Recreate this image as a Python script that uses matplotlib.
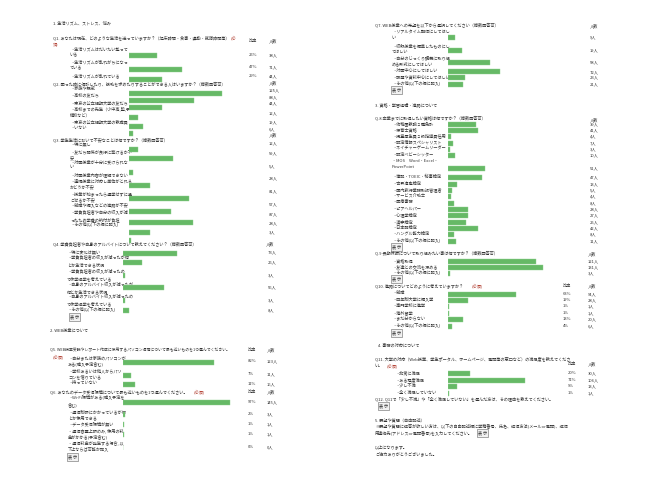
import matplotlib.pyplot as plt
import numpy as np

plt.rcParams['font.family'] = ['Noto Sans CJK JP', 'DejaVu Sans']

# ---- データ ----
q1_labels = ["・生活リズムはだいたい整って\nいる", "・生活リズムが乱れがちになっ\nている", "・生活リズムが乱れている"]
q1_counts = [38, 71, 44]
q1_pct = [25, 47, 29]

q2_labels = ["・家族や親戚", "・高校の友だち", "・東京の公立短期大学の友だち",
             "・高校までの先生（小中高,塾,予\n備校など）", "・東京の公立短期大学の教職員", "・いない"]
q2_counts = [125, 88, 44, 12, 19, 6]

q3_labels = ["・特に無し", "・友だち関係が良好に築けるか不\n安", "・対面授業が十分に受けられな\nい",
             "・対面授業内容が理解できない", "・遠隔授業に対応し単位がとれる\nかどうか不安",
             "・授業が始まったら通学せずに過\nごせるか不安", "・就職や編入などの進路が不安",
             "・学費負担者や自分の収入が減\nったため学費の納付が負担", "・その他(以下の欄に記入)"]
q3_counts = [12, 59, 5, 28, 81, 57, 87, 28, 3]

q4_labels = ["・特に変化は無い", "・学費負担者の収入が減ったが何\nとか生活できる状況",
             "・学費負担者の収入が減ったの\nで休学退学を考えている",
             "・自身のアルバイト収入が減ったが\n何とか生活できる状況",
             "・自身のアルバイト収入が減ったの\nで休学退学を考えている", "・その他(以下の欄に記入)"]
q4_counts = [73, 26, 3, 56, 3, 8]

q5_labels = ["・自分または家族のパソコンが\nある(購入予定含む)", "・学校あるいは他人からパソ\nコンを借りている", "・持っていない"]
q5_counts = [123, 11, 16]
q5_pct = [82, 7, 11]

q6_labels = ["・Wi-Fi環境がある(購入予定を\n含む)", "・通信制限にかかっているが何\nとか使用できる",
             "・データ受信環境が無い", "・通信容量上限のみ, 使用の料\n金がかかる(予定含む)",
             "・通信料金が発生する場合, 以\n下上ならば可能か記入"]
q6_counts = [145, 3, 1, 1, 0]
q6_pct = [97, 2, 1, 1, 0]

q7_labels = ["・リアルタイム配信にしてほし\nい", "・収録授業を編集したものにし\nてほしい",
             "・自分のじっくり講義に取り組\nめる形式にしてほしい", "・対面中心にしてほしい",
             "・課題や資料中心にしてほしい", "・その他(以下の欄に記入)"]
q7_counts = [9, 19, 58, 72, 23, 21]

q8_labels = ["・幼稚園教諭２種免許", "・保育士資格", "・児童厚生員２級指導員任用", "・認定情報スペシャリスト",
             "・ネイチャーゲームリーダー", "・認定ベビーシッター", "・MOS　Word・Excel・\nPowerPoint",
             "・簿記・TOEIC・秘書検定", "・世界遺産検定", "・国内旅行業務取扱管理者", "・サービス介助士",
             "・医療事務", "・ピアヘルパー", "・心理学検定", "・漢字検定", "・日本語検定",
             "・ハングル能力検定", "・その他(以下の欄に記入)"]
q8_counts = [39, 41, 4, 7, 3, 10, 51, 47, 13, 5, 4, 8, 28, 27, 25, 42, 8, 11]

q9_labels = ["・資格取得", "・友達との交流を深める", "・その他(以下の欄に記入)"]
q9_counts = [121, 131, 3]

q10_labels = ["・就職", "・四年制大学に編入学", "・専門学校に進学", "・海外留学", "・まだ分からない",
              "・その他(以下の欄に記入)"]
q10_counts = [94, 28, 1, 1, 20, 6]
q10_pct = [63, 19, 1, 1, 13, 4]

q11_labels = ["・非常に満足", "・ある程度満足", "・少し不満", "・全く満足していない"]
q11_counts = [30, 106, 13, 1]
q11_pct = [20, 71, 9, 1]

# ---- 描画 ----
W, H = 649, 487
GREEN = '#66b966'
TXT = '#333333'
RED = '#b5473a'
FS = 3.0

fig = plt.figure(figsize=(W / 100, H / 100), dpi=100)
ax = fig.add_axes([0, 0, 1, 1])
ax.set_xlim(0, W)
ax.set_ylim(H, 0)
ax.axis('off')


def bar_axes(x0, px_per):
    # 人数を横棒の長さに変換する軸(ページ全体の高さ)
    b = fig.add_axes([x0 / W, 0, 200 * px_per / W, 1])
    b.set_xlim(0, 200)
    b.set_ylim(H, 0)
    b.axis('off')
    return b


def t(x, y, s, color=TXT, fs=FS, **kw):
    return ax.text(x, y, s, fontsize=fs, color=color, va='center', ha='left', **kw)


def required(txt, gap=4):
    # 質問文のすぐ右に赤い(必須)
    ax.annotate("(必須)", xy=(1, 0.5), xycoords=txt, xytext=(gap, 0), textcoords='offset pixels',
                fontsize=FS, color=RED, va='center', ha='left')


def button(x, y):
    ax.text(x, y, "表 示", fontsize=FS, color=TXT, va='center', ha='left',
            bbox=dict(boxstyle='square,pad=0.3', fc='#f2f2f2', ec='#666666', lw=0.4))


def question(bax, labels, counts, lab_x, lab_y, bar_y, num_y, num_x, pcts=None, pct_x=None):
    for lab, y in zip(labels, lab_y):
        ax.text(lab_x, y - 2.6, lab, fontsize=FS, color=TXT, va='top', ha='left', linespacing=1.45)
    bax.barh(bar_y, counts, height=5, color=GREEN, edgecolor='#8fd08f', linewidth=0.3)
    for c, y in zip(counts, num_y):
        t(num_x, y, f"{c}人")
    if pcts is not None:
        for p, y in zip(pcts, num_y):
            t(pct_x, y, f"{p}%")


bl1 = bar_axes(129, 0.74)
bl2 = bar_axes(123, 0.74)
br = bar_axes(448, 0.725)

# 左列
t(53, 23, "1. 生活リズム、ストレス、悩み")
t(53, 38, "Q1. あなたは現在、どのような生活を送っていますか？（起床時間・食事・運動・就寝時間等）")
t(231, 38, "(必", color=RED)
t(53, 44, "須)", color=RED)
t(249, 41, "比率")
t(269, 41, "人数")
question(bl1, q1_labels, q1_counts, 70, [50, 63, 76], [55, 69, 79], [55, 67, 76], 269, q1_pct, 249)

t(53, 84, "Q2. 困った時に相談したり、援助を求めたりすることができる人はいますか？（複数回答可）")
t(269, 83, "人数")
question(bl1, q2_labels, q2_counts, 70, [89, 95, 103, 109, 122, 129],
         [93, 100, 107, 117, 126, 133], [90, 97, 103, 113, 122, 129], 269)

t(269, 135, "人数")
t(53, 140, "Q3. 学生生活において不安なことは何ですか？（複数回答可）")
question(bl1, q3_labels, q3_counts, 70, [144, 152, 162, 175, 181, 194, 206, 213, 225],
         [149, 158, 172, 185, 198, 211, 222, 232, 240], [143, 153, 166, 178, 191, 204, 214, 223, 232], 269)

t(53, 244, "Q4. 学費負担者や自身のアルバイトについて教えてください？（複数回答可）")
t(266, 244, "人数")
question(bl2, q4_labels, q4_counts, 67, [252, 258, 272, 285, 297, 310],
         [253, 262, 275, 287, 300, 310], [252, 262, 275, 287, 300, 310], 268)
button(70, 317)

t(50, 331, "2. WEB授業について")
t(50, 350, "Q5. WEB授業受講やレポート作成に使用するパソコン環境について最も近いものを1つ選んでください。", fs=2.75)
t(53, 357, "(必須)", color=RED)
t(248, 350, "比率")
t(267, 350, "人数")
question(bl2, q5_labels, q5_counts, 68, [358, 371, 384], [362, 375, 384], [361, 374, 384], 267, q5_pct, 248)

q6_txt = t(50, 392, "Q6. あなたのデータ受信環境について最も近いものを1つ選んでください。")
required(q6_txt, 6)
t(248, 392, "比率")
t(267, 392, "人数")
question(bl2, q6_labels, q6_counts, 68, [398, 412, 424, 431, 443], [402, 414, 424, 434, 447],
         [402, 414, 424, 434, 447], 267, q6_pct, 248)
button(68, 457)

# 右列
t(375, 25, "Q7. WEB授業への希望を以下から選択してください（複数回答可）")
t(590, 26, "人数")
question(br, q7_labels, q7_counts, 392, [33, 46, 58, 71, 77, 84], [37, 50, 62, 71, 77, 84],
         [37, 50, 62, 72, 77, 84], 590)
button(392, 90)

t(375, 105, "3. 資格・学習経験・進路について")
t(375, 118, "Q.8 卒業までに取得したい資格は何ですか？（複数回答可）")
t(590, 120, "人数")
q8_rows = [124, 130, 136, 143, 149, 155, 162, 177, 184, 190, 196, 203, 209, 215, 222, 228, 234, 241]
q8_bars = [124, 130, 136, 143, 149, 155, 168, 177, 184, 190, 196, 203, 209, 215, 222, 228, 234, 241]
question(br, q8_labels, q8_counts, 392, q8_rows, q8_bars, q8_bars, 590)
button(392, 247)

t(375, 253, "Q.9 長期休暇について取り組みたい事は何ですか？（複数回答可）")
t(588, 254, "人数")
question(br, q9_labels, q9_counts, 392, [261, 267, 273], [261, 267, 273], [261, 267, 273], 588)
button(392, 279)

q10_txt = t(375, 286, "Q10. 進路についてどのように考えていますか？")
required(q10_txt, 8)
t(563, 286, "比率")
t(588, 286, "人数")
question(br, q10_labels, q10_counts, 392, [294, 300, 306, 313, 319, 326], [294, 300, 306, 313, 319, 326],
         [294, 300, 306, 313, 319, 326], 588, q10_pct, 563)
button(392, 333)

t(378, 346, "4. 事務の対応について")
t(375, 359, "Q11. 大学の対応（Web授業、学生ポータル、ホームページ、電話等の窓口など）の満足度を教えてくださ")
q11_tail = t(375, 366, "い。")
required(q11_tail, 3)
t(568, 364, "比率")
t(588, 364, "人数")
question(br, q11_labels, q11_counts, 395, [373, 380, 386, 393], [373, 380, 386, 393],
         [373, 380, 386, 393], 588, q11_pct, 568)
t(375, 399, "Q12. Q11で「少し不満」や「全く満足していない」を選んだ方は、その理由を教えてください。")
button(379, 406)

t(375, 420, "5. 要望や質問（自由記述）")
t(375, 426, "※要望や質問に返答が欲しい方は、以下の自由記述欄に学籍番号、氏名、返信方法(メールor電話)、返信")
t(375, 433, "用連絡先(アドレスor電話番号)を入力してください。")
button(478, 433)
t(375, 447, "以上になります。")
t(375, 454, "ご協力ありがとうございました。")

fig.savefig("out.png", dpi=100, facecolor='white')
